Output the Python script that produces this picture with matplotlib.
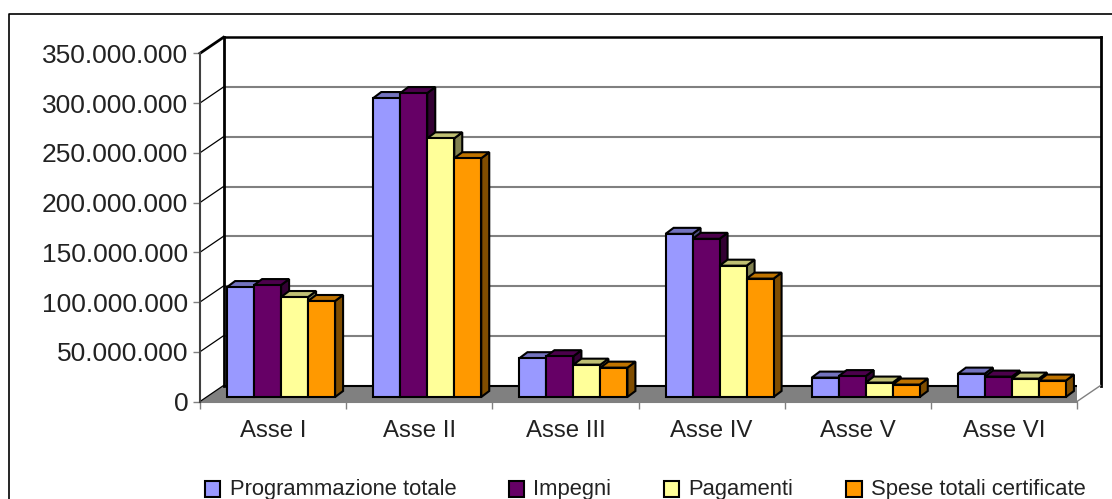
import matplotlib
matplotlib.use("Agg")
import matplotlib.pyplot as plt
from matplotlib.lines import Line2D
from matplotlib.ticker import FuncFormatter

plt.rcParams['font.family'] = ['Liberation Sans', 'DejaVu Sans']

categories = ["Asse I", "Asse II", "Asse III", "Asse IV", "Asse V", "Asse VI"]
programmazione = [110.5e6, 300.5e6, 39e6, 164e6, 19.5e6, 23.5e6]
impegni = [112.5e6, 305.5e6, 41e6, 159e6, 21e6, 20.5e6]
pagamenti = [100.5e6, 260e6, 32.5e6, 132e6, 14.5e6, 18.5e6]
spese = [96.5e6, 240e6, 29.5e6, 119e6, 12.5e6, 16.5e6]
series_names = ["Programmazione totale", "Impegni", "Pagamenti", "Spese totali certificate"]
series_values = [programmazione, impegni, pagamenti, spese]
face_colors = ["#9999ff", "#660066", "#ffff99", "#ff9900"]
top_colors = ["#7373bf", "#4c004c", "#bfbf73", "#bf7300"]
side_colors = ["#4d4d80", "#330033", "#808050", "#804d00"]
y_ticks = [0, 50e6, 100e6, 150e6, 200e6, 250e6, 300e6, 350e6]

W, H = 1112, 499
X0, X1, Y0, Y1 = 200, 1077, 401.5, 53.3

fig = plt.figure(figsize=(W / 100, H / 100), dpi=100)
ax = fig.add_axes([X0 / W, 1 - Y0 / H, (X1 - X0) / W, (Y0 - Y1) / H])
ax.set_xlim(0, 6)
ax.set_ylim(0, 350e6)

# pixel sizes turned into data units for the fake 3d
px_x = 6 / (X1 - X0)
px_y = 350e6 / (Y0 - Y1)
wall_dx, wall_dy = 23.5 * px_x, 16 * px_y
bar_off_x, bar_off_y = 8 * px_x, 4.5 * px_y
bar_dx, bar_dy = 8 * px_x, 6 * px_y
bar_w = 27 * px_x

# outer frame of the chart: only left and top are inside the picture
fig.add_artist(Line2D([8.5 / W, 8.5 / W, 1], [0, 1 - 13.5 / H, 1 - 13.5 / H],
                      transform=fig.transFigure, color="black", lw=1.2))

# floor
ax.fill([0, 6, 6 + wall_dx, wall_dx], [0, 0, wall_dy, wall_dy], fc="#808080", ec="none", zorder=1)
ax.plot([wall_dx, 6 + wall_dx], [wall_dy, wall_dy], color="black", lw=1.5, zorder=1.5)
ax.plot([0, 6], [0, 0], color="#808080", lw=1.5, zorder=1.5, clip_on=False)

# back wall grid and left wall
for t in y_ticks[1:-1]:
    ax.plot([wall_dx, 6 + wall_dx], [t + wall_dy, t + wall_dy], color="#808080", lw=1.5, zorder=1, clip_on=False)
for t in y_ticks[:-1]:
    ax.plot([0, wall_dx], [t, t + wall_dy], color="black", lw=0.9, zorder=1.5, clip_on=False)
top = 350e6 + wall_dy
ax.plot([0, wall_dx], [350e6, top], color="black", lw=2, zorder=2, clip_on=False)
ax.plot([wall_dx, 6 + wall_dx], [top, top], color="black", lw=1.8, zorder=2, clip_on=False)
ax.plot([wall_dx, wall_dx], [wall_dy, top], color="black", lw=2, zorder=2, clip_on=False)
ax.plot([6 + wall_dx, 6 + wall_dx], [wall_dy, top], color="black", lw=2, zorder=2, clip_on=False)
ax.plot([0, 0], [0, 350e6], color="#404040", lw=1.5, zorder=2, clip_on=False)
ax.plot([6, 6 + wall_dx], [0, wall_dy], color="#808080", lw=1, zorder=2, clip_on=False)

# bars, left to right so each one hides the side of the one before
z = 3
handles = []
for c in range(len(categories)):
    for s, vals in enumerate(series_values):
        v = vals[c]
        left = c + 0.5 + bar_off_x + (s - 2) * bar_w
        right = left + bar_w
        b = bar_off_y
        ax.fill([right, right + bar_dx, right + bar_dx, right],
                [b, b + bar_dy, b + v + bar_dy, b + v],
                fc=side_colors[s], ec="black", lw=1.5, zorder=z, clip_on=False)
        ax.fill([left, right, right + bar_dx, left + bar_dx],
                [b + v, b + v, b + v + bar_dy, b + v + bar_dy],
                fc=top_colors[s], ec="black", lw=1.5, zorder=z, clip_on=False)
        bar = ax.bar(left, v, bar_w, bottom=b, align="edge", color=face_colors[s],
                     edgecolor="black", linewidth=1.5, zorder=z + 0.5, clip_on=False)
        if c == 0:
            handles.append(bar)
        z += 1

for side in ax.spines.values():
    side.set_visible(False)
ax.patch.set_visible(False)

ax.set_yticks(y_ticks)
ax.yaxis.set_major_formatter(FuncFormatter(lambda v, pos: f"{int(v):,}".replace(",", ".")))
ax.tick_params(axis="y", length=5, width=1, color="#808080", labelsize=19, pad=3.5, labelcolor="#222222")
ax.set_xticks(range(7))
ax.set_xticklabels([])
ax.set_xticks([i + 0.5 for i in range(6)], categories, minor=True)
ax.tick_params(axis="x", which="major", length=5, width=1, color="#808080")
ax.tick_params(axis="x", which="minor", length=0, labelsize=17.3, pad=13, labelcolor="#222222")

leg = fig.legend(handles, series_names, ncol=4, loc="lower left",
                 bbox_to_anchor=(205 / W, -0.5 / H), frameon=False, fontsize=15.8,
                 handlelength=0.7, handleheight=0.7, handletextpad=0.42, columnspacing=2.4,
                 borderpad=0, borderaxespad=0, labelcolor="#222222")
# markers sit a bit lower than the text
for p in leg.legend_handles:
    p.set_y(p.get_y() - 1.5)

fig.savefig("out.png", dpi=100)
